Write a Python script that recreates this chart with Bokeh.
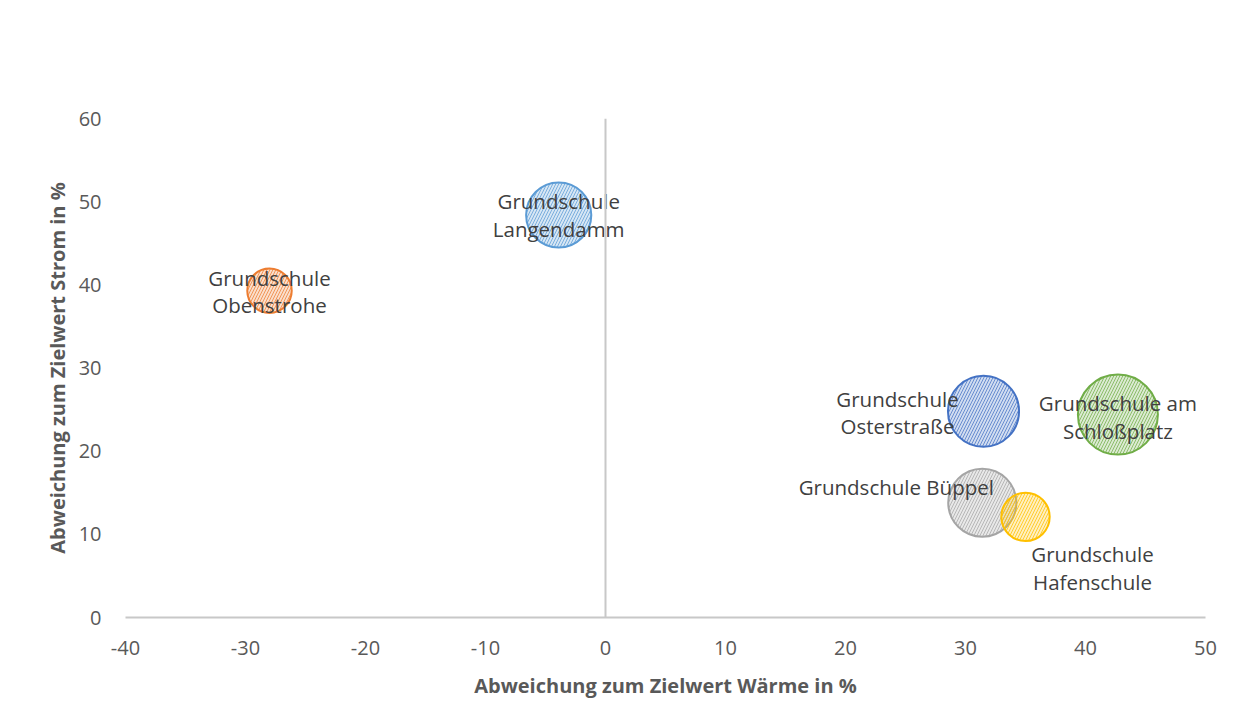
import math
from bokeh.plotting import figure
from bokeh.models import ColumnDataSource, Range1d, FixedTicker, Span
from bokeh.core.properties import value
from bokeh.embed import file_html
from bokeh.resources import INLINE

# ---- data ----
schools = [
    "Grundschule\nObenstrohe",
    "Grundschule\nLangendamm",
    "Grundschule\nOsterstraße",
    "Grundschule am\nSchloßplatz",
    "Grundschule Büppel",
    "Grundschule\nHafenschule",
]
abweichung_waerme = [-28.0, -3.9, 31.5, 42.7, 31.4, 35.0]
abweichung_strom = [39.3, 48.4, 24.8, 24.4, 13.8, 12.1]
bubble_value = [30.9, 66.4, 79.0, 100.0, 72.6, 36.6]
x_ticks = [-40, -30, -20, -10, 0, 10, 20, 30, 40, 50]
y_ticks = [0, 10, 20, 30, 40, 50, 60]

# ---- style ----
colors = ["#ED7D31", "#5B9BD5", "#4472C4", "#70AD47", "#A5A5A5", "#FFC000"]
label_dx = [0, 0, -86, 0, -86, 67]
label_dy = [1, 0, 1.5, 2.5, -16, 51]
max_diam = 80.0
diam = [max_diam * math.sqrt(b / max(bubble_value)) for b in bubble_value]

FONT = "Open Sans"

src = ColumnDataSource(dict(
    x=abweichung_waerme, y=abweichung_strom, size=diam, color=colors,
    label=schools, dx=label_dx, dy=label_dy,
))

p = figure(width=1227, height=711, output_backend="svg", toolbar_location=None,
           x_range=Range1d(-40, 50), y_range=Range1d(0, 60),
           min_border_left=125, min_border_right=22, min_border_top=118,
           min_border_bottom=94)
p.outline_line_color = None
p.xgrid.visible = False
p.ygrid.visible = False
p.background_fill_color = "white"
p.border_fill_color = "white"

# axes
p.xaxis.ticker = FixedTicker(ticks=x_ticks)
p.yaxis.ticker = FixedTicker(ticks=y_ticks)
p.xaxis.major_label_overrides = {t: str(t) for t in x_ticks}
p.yaxis.major_label_overrides = {t: str(t) for t in y_ticks}
for ax in (p.xaxis[0], p.yaxis[0]):
    ax.major_tick_line_color = None
    ax.minor_tick_line_color = None
    ax.major_tick_out = 0
    ax.major_tick_in = 0
    ax.major_label_text_font = FONT
    ax.major_label_text_font_size = "20px"
    ax.major_label_text_color = "#595959"
    ax.axis_label_text_font = FONT
    ax.axis_label_text_font_size = "20px"
    ax.axis_label_text_font_style = "bold"
    ax.axis_label_text_color = "#595959"

p.xaxis.axis_line_color = "#C8C8C8"
p.xaxis.axis_line_width = 2
p.xaxis.major_label_standoff = 23
p.xaxis.axis_label = "Abweichung zum Zielwert Wärme in %"
p.xaxis.axis_label_standoff = 14

p.yaxis.axis_line_color = None
p.yaxis.major_label_standoff = 24
p.yaxis.axis_label = "Abweichung zum Zielwert Strom in %"
p.yaxis.axis_label_standoff = 5

p.add_layout(Span(location=0, dimension="height", line_color="#C8C8C8", line_width=2))

# bubbles
p.scatter("x", "y", size="size", source=src, marker="circle",
          fill_color="color", fill_alpha=0.25,
          line_color="color", line_width=2,
          hatch_pattern="/", hatch_color="color", hatch_alpha=0.75,
          hatch_scale=6, hatch_weight=1.0)

# labels
p.text("x", "y", text="label", source=src, x_offset="dx", y_offset="dy",
       text_align="center", text_baseline="middle",
       text_font=value(FONT), text_font_size="20.5px", text_color="#404040",
       text_line_height=0.98)

open("out.html", "w").write(file_html(p, INLINE))
